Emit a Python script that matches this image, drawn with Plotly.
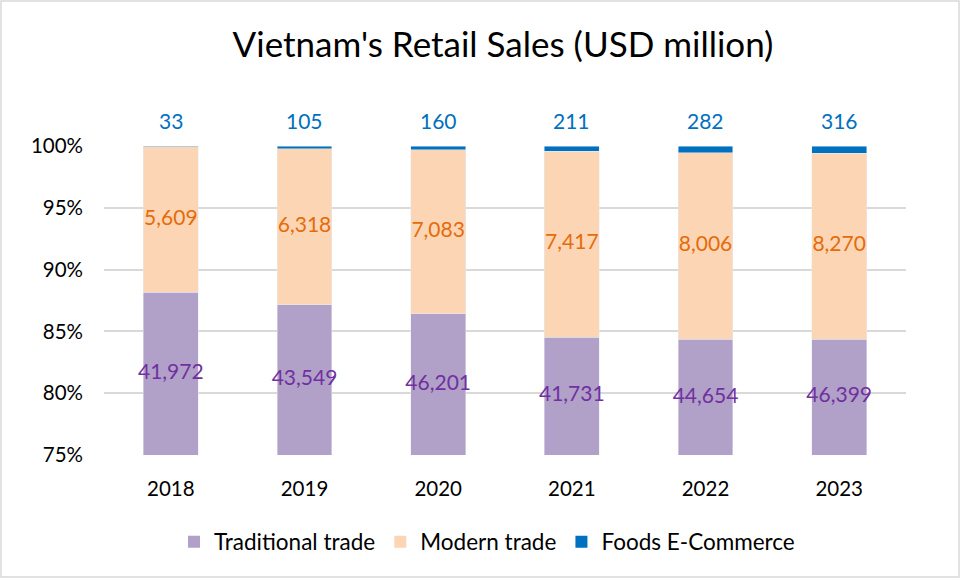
import plotly.graph_objects as go

years = ["2018", "2019", "2020", "2021", "2022", "2023"]
traditional = [41972, 43549, 46201, 41731, 44654, 46399]
modern = [5609, 6318, 7083, 7417, 8006, 8270]
ecommerce = [33, 105, 160, 211, 282, 316]
series_names = ["Traditional trade", "Modern trade", "Foods E-Commerce"]
bar_colors = ["#B1A0C7", "#FCD5B5", "#0070C0"]
label_colors = ["#7030A0", "#E46C0A", "#0070C0"]

FONT = "Lato"
totals = [a + b + c for a, b, c in zip(traditional, modern, ecommerce)]
p_trad = [a / t * 100 for a, t in zip(traditional, totals)]
p_mod = [b / t * 100 for b, t in zip(modern, totals)]
p_ec = [c / t * 100 for c, t in zip(ecommerce, totals)]

YMIN, YMAX = 75, 100
fig = go.Figure()
for name, vals, col in zip(series_names, [p_trad, p_mod, p_ec], bar_colors):
    fig.add_bar(x=years, y=vals, name=name, marker_color=col, width=0.41, showlegend=False)
# legend entries with larger square markers (points kept below the visible range)
for name, col in zip(series_names, bar_colors):
    fig.add_scatter(x=[years[0]], y=[0], mode="markers", name=name, hoverinfo="skip",
                    marker=dict(symbol="square", size=14, color=col))

# labels centered on visible part of each segment
y_trad_lbl = [(YMIN + min(p, YMAX)) / 2 for p in p_trad]
y_mod_lbl = [(a + a + b) / 2 for a, b in zip(p_trad, p_mod)]
fig.add_scatter(x=years, y=y_trad_lbl, mode="text", text=[f"{v:,}" for v in traditional],
                textfont=dict(color=label_colors[0], size=21, family=FONT), showlegend=False, hoverinfo="skip")
fig.add_scatter(x=years, y=y_mod_lbl, mode="text", text=[f"{v:,}" for v in modern],
                textfont=dict(color=label_colors[1], size=21, family=FONT), showlegend=False, hoverinfo="skip")
# e-commerce labels above the bars (x given as category index)
for i, v in enumerate(ecommerce):
    fig.add_annotation(x=i, y=YMAX, xref="x", yref="y", yshift=26, text=f"{v:,}", showarrow=False,
                       font=dict(color=label_colors[2], size=21, family=FONT))

W, H = 962, 580
L, R, T, B = 104, 56, 146, 125
pw, ph = W - L - R, H - T - B
fig.add_shape(type="rect", xref="paper", yref="paper",
              x0=-(L - 1) / pw, x1=1 + (R - 3) / pw, y0=-(B - 3) / ph, y1=1 + (T - 1) / ph,
              line=dict(color="#D9D9D9", width=1.5), fillcolor="rgba(0,0,0,0)", layer="below")

fig.update_layout(
    width=W, height=H, barmode="stack",
    margin=dict(l=L, r=R, t=T, b=B),
    paper_bgcolor="white", plot_bgcolor="white",
    font=dict(family=FONT, size=20, color="#000000"),
    title=dict(text="Vietnam's Retail Sales (USD million)", x=503 / W, xanchor="center",
               y=1 - 45 / H, yanchor="middle", font=dict(size=35, family=FONT, color="#000")),
    legend=dict(orientation="h", x=(487 - L) / pw, xanchor="center", y=-87 / ph, yanchor="middle",
                font=dict(size=22.5, family=FONT), itemsizing="constant", traceorder="normal",
                itemwidth=30, tracegroupgap=0),
    showlegend=True,
)
fig.update_yaxes(range=[YMIN, YMAX], dtick=5, ticksuffix="%", showgrid=True, gridcolor="#D9D9D9",
                 gridwidth=1.5, zeroline=False, showline=False, ticks="", ticklen=0,
                 ticklabelstandoff=20, tickfont=dict(size=20.5, family=FONT))
fig.update_xaxes(type="category", categoryorder="array", categoryarray=years,
                 range=[-0.5, len(years) - 0.5], showgrid=False, showline=False, ticks="",
                 ticklabelstandoff=19, tickfont=dict(size=20.5, family=FONT))

fig.write_html("out.html", config={"displayModeBar": False},
               post_script="document.body.style.margin='0';")
